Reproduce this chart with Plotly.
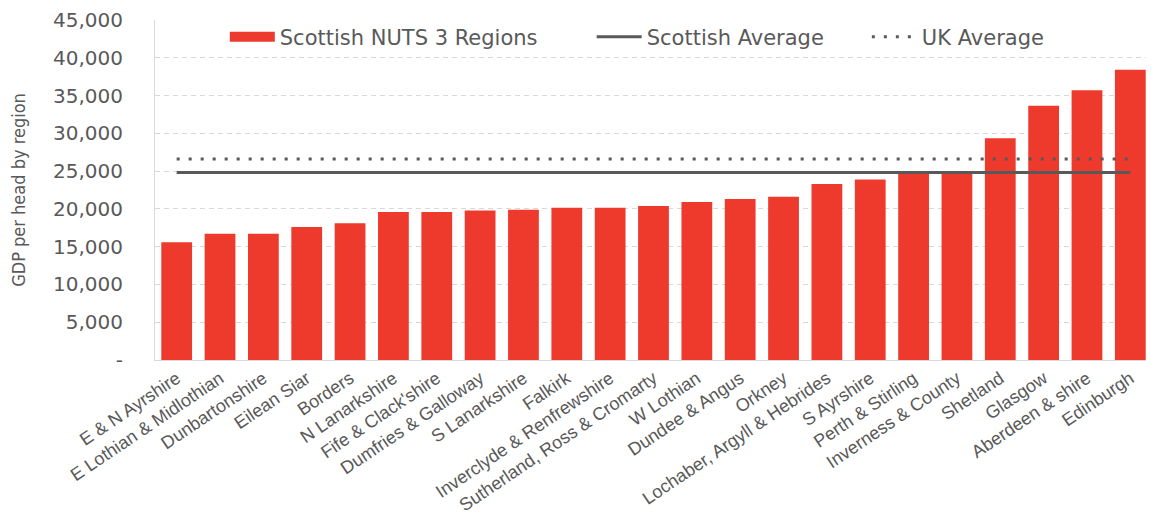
import plotly.graph_objects as go

regions = ["E & N Ayrshire", "E Lothian & Midlothian", "Dunbartonshire", "Eilean Siar", "Borders",
           "N Lanarkshire", "Fife & Clack'shire", "Dumfries & Galloway", "S Lanarkshire", "Falkirk",
           "Inverclyde & Renfrewshire", "Sutherland, Ross & Cromarty", "W Lothian", "Dundee & Angus",
           "Orkney", "Lochaber, Argyll & Hebrides", "S Ayrshire", "Perth & Stirling",
           "Inverness & County", "Shetland", "Glasgow", "Aberdeen & shire", "Edinburgh"]
gdp = [15600, 16700, 16700, 17600, 18100, 19600, 19600, 19800, 19900, 20150,
       20150, 20380, 20900, 21300, 21600, 23300, 23900, 24800, 24800, 29350,
       33650, 35700, 38400]
scot_avg = 24800
uk_avg = 26600
ytick_vals = [0, 5000, 10000, 15000, 20000, 25000, 30000, 35000, 40000, 45000]
ytick_text = ["-", "5,000", "10,000", "15,000", "20,000", "25,000", "30,000", "35,000", "40,000", "45,000"]

grey = "#595959"
red = "#EE3A2C"
fig = go.Figure()
fig.add_trace(go.Bar(x=regions, y=gdp, name="Scottish NUTS 3 Regions", showlegend=False,
                     marker=dict(color=red, line=dict(width=0))))
# legend swatch (wide rectangle, as in the original legend)
fig.add_trace(go.Scatter(x=[None], y=[None], name="Scottish NUTS 3 Regions", legend="legend",
                         mode="lines", line=dict(color=red, width=12)))
fig.add_trace(go.Scatter(x=regions, y=[scot_avg] * len(regions), name="Scottish Average",
                         legend="legend2", mode="lines", line=dict(color=grey, width=3)))
fig.add_trace(go.Scatter(x=regions, y=[uk_avg] * len(regions), name="UK Average",
                         legend="legend3", mode="lines",
                         line=dict(color=grey, width=3, dash="3px,9px")))

leg_common = dict(orientation="h", yanchor="middle", y=0.95, xanchor="left",
                  bgcolor="rgba(0,0,0,0)", font=dict(size=21, color=grey), itemwidth=45)

fig.update_layout(
    width=1146, height=509,
    margin=dict(l=147, r=2, t=12, b=157, autoexpand=False),
    plot_bgcolor="white", paper_bgcolor="white",
    bargap=0.29,
    font=dict(family="DejaVu Sans, Liberation Sans, Arial, sans-serif", color=grey),
    showlegend=True,
    legend=dict(x=0.070, **leg_common),
    legend2=dict(x=0.438, **leg_common),
    legend3=dict(x=0.714, **leg_common),
    xaxis=dict(tickangle=-34, tickfont=dict(size=18, color=grey,
                                             family="Liberation Sans, Arial, sans-serif"),
               showline=True, linecolor="#D9D9D9", linewidth=1, showgrid=False, ticks="",
               automargin=False),
    yaxis=dict(range=[0, 45000], tickvals=ytick_vals, ticktext=ytick_text,
               tickfont=dict(size=20, color=grey), showgrid=True, gridcolor="#D9D9D9",
               griddash="5px,4px", gridwidth=1, zeroline=False, showline=True,
               linecolor="#D9D9D9", linewidth=1, ticks="outside", ticklen=27,
               tickcolor="rgba(0,0,0,0)", automargin=False,
               title=dict(text="GDP per head by region", standoff=22,
                          font=dict(size=18, color=grey,
                                    family="Liberation Sans Narrow, DejaVu Sans Condensed, Liberation Sans"))),
)
fig.write_html("out.html")
